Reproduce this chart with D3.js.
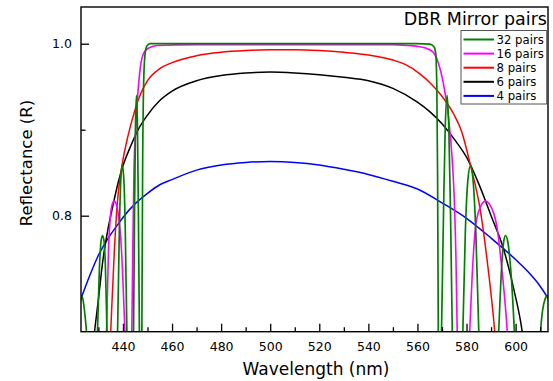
<!DOCTYPE html>
<html>
<head>
<meta charset="utf-8">
<script src="https://cdn.jsdelivr.net/npm/d3@7"></script>
<style>
  body { margin: 0; background: #fff; }
  svg text { font-family: "DejaVu Sans", sans-serif; fill: #000; }
</style>
</head>
<body>
<svg id="chart" width="553" height="381"></svg>
<script>
// [wavelength nm, reflectance]
const pairs4 = [[422.0,0.698],[422.9,0.704],[426,0.727],[430,0.754],[434,0.774],[437.7,0.789],[440,0.798],[445,0.814],[450,0.826],[455,0.836],
  [460,0.842],[470,0.853],[480,0.859],[490,0.862],[500,0.863],[510,0.862],[520,0.859],[530,0.854],[540,0.848],[550,0.840],
  [560,0.831],[570,0.815],[580,0.797],[590,0.774],[600,0.749],[605,0.735],[610,0.718],[613.2,0.704],[614,0.700]];

const pairs6 = [[427.4,0.64],[428.4,0.665],[430,0.703],[432,0.752],[433,0.770],[434,0.786],[436,0.813],[438,0.838],[440,0.858],
  [443,0.880],[446,0.899],[450,0.917],[455,0.934],[460,0.945],[470,0.957],[480,0.963],[490,0.966],[500,0.967],[510,0.966],
  [520,0.964],[530,0.961],[540,0.957],[550,0.948],[560,0.932],[565,0.921],[570,0.907],[575,0.889],[580,0.868],[585,0.837],
  [590,0.800],[595,0.762],[599.3,0.714],[602.7,0.665],[603.4,0.65]];

const pairs8 = [[434.3,0.62],[435.0,0.665],[436.5,0.76],[437.7,0.815],[439.7,0.860],[441.5,0.886],[443.8,0.912],[446.5,0.937],
  [450,0.957],[455,0.971],[460,0.978],[470,0.986],[480,0.990],[490,0.992],[500,0.993],[510,0.993],[520,0.992],[530,0.990],
  [540,0.987],[550,0.981],[555,0.976],[561,0.965],[565,0.955],[569.4,0.941],[574.8,0.918],[578,0.898],[581.5,0.860],
  [585.7,0.805],[588.4,0.748],[591.5,0.665],[592.2,0.64]];

const pairs16 = [[432.6,0.62],[433.3,0.665],[434.1,0.76],[434.9,0.80],[435.6,0.813],[436.4,0.817],[437.3,0.813],[438.2,0.80],
  [439.4,0.76],[440.8,0.665],[441.4,0.62],[442.5,0.50],[443.2,0.62],[443.6,0.665],[444.0,0.76],[444.5,0.855],[445.2,0.90],
  [445.9,0.936],[446.5,0.957],[447.2,0.975],[448.6,0.990],[450.5,0.995],[454,0.998],[470,0.999],[500,0.999],[530,0.999],
  [550,0.999],[556,0.998],[561,0.9965],[565,0.993],[567,0.988],[568.5,0.978],[570.5,0.955],[572.5,0.918],[574.1,0.868],
  [575.0,0.82],[575.7,0.75],[576.2,0.665],[576.7,0.60],[578.8,0.45],[580.6,0.62],[581.3,0.665],[582.3,0.73],[583.6,0.785],
  [585.3,0.808],[587.7,0.817],[590.8,0.805],[592.5,0.785],[594.5,0.735],[596.6,0.665],[597.3,0.63]];

const pairs32 = [[422.0,0.69],[422.9,0.703],[423.4,0.706],[424.1,0.695],[424.6,0.682],[425.1,0.665],[425.6,0.62],[427.3,0.40],
  [428.9,0.62],[429.6,0.665],[430.5,0.745],[431.1,0.771],[431.7,0.777],[432.3,0.770],[432.8,0.745],[433.5,0.665],[434.0,0.62],
  [435.8,0.40],[437.2,0.62],[437.8,0.665],[438.5,0.78],[439.1,0.84],[439.7,0.859],[440.3,0.845],[440.9,0.79],[441.6,0.665],
  [442.1,0.62],[442.9,0.40],[443.8,0.62],[444.3,0.665],[444.7,0.80],[445.1,0.905],[445.5,0.94],[445.9,0.905],[446.3,0.80],
  [446.7,0.665],[447.0,0.60],[447.3,0.50],[447.7,0.665],[448.0,0.85],[448.4,0.95],[448.9,0.985],[449.7,0.997],[451,1.0],
  [480,1.0],[520,1.0],[560,1.0],[565,0.9995],[566.6,0.997],[567.4,0.99],[567.9,0.95],[568.2,0.85],[568.5,0.665],[568.8,0.55],
  [569.1,0.45],[569.4,0.62],[569.8,0.665],[570.6,0.80],[571.3,0.90],[572.1,0.94],[572.8,0.90],[573.5,0.80],[574.2,0.665],
  [574.6,0.62],[576.2,0.40],[577.8,0.62],[578.5,0.665],[579.5,0.78],[580.5,0.84],[581.6,0.858],[582.7,0.84],[583.8,0.78],
  [585.0,0.665],[585.6,0.62],[588.3,0.40],[592.4,0.62],[593.1,0.665],[594.4,0.745],[595.2,0.771],[595.9,0.777],[596.8,0.770],
  [597.8,0.745],[599.5,0.665],[600.2,0.62],[605,0.40],[609.6,0.62],[610.2,0.665],[611.0,0.69],[612.0,0.703],[613.0,0.707],[614,0.705]];

const seriesNames = ["32 pairs", "16 pairs", "8 pairs", "6 pairs", "4 pairs"];
const xMajorTicks = [440, 460, 480, 500, 520, 540, 560, 580, 600];
const xMinorTicks = [430, 450, 470, 490, 510, 530, 550, 570, 590, 610];
const yMajorTicks = [0.8, 1.0];
const yMinorTicks = [0.9];

const series = [
  { name: seriesNames[4], data: pairs4, color: "#0000ff", width: 1.5 },
  { name: seriesNames[3], data: pairs6, color: "#000000", width: 1.5 },
  { name: seriesNames[2], data: pairs8, color: "#ff0000", width: 1.5 },
  { name: seriesNames[1], data: pairs16, color: "#ff00ff", width: 1.6 },
  { name: seriesNames[0], data: pairs32, color: "#008000", width: 1.7 }
];

const margin = { top: 7, right: 5, bottom: 49.3, left: 81 };
const width = 553 - margin.left - margin.right;
const height = 381 - margin.top - margin.bottom;

const svg = d3.select("#chart");
const g = svg.append("g").attr("transform", `translate(${margin.left},${margin.top})`);

const x = d3.scaleLinear().domain([422.9, 613.2]).range([0, width]);
const y = d3.scaleLinear().domain([0.6651, 1.0427]).range([height, 0]);

g.append("clipPath").attr("id", "plotClip")
  .append("rect").attr("width", width).attr("height", height);

const line = d3.line()
  .x(d => x(d[0]))
  .y(d => y(d[1]))
  .curve(d3.curveMonotoneX);

const plot = g.append("g").attr("clip-path", "url(#plotClip)");
series.forEach(s => {
  plot.append("path")
    .datum(s.data)
    .attr("fill", "none")
    .attr("stroke", s.color)
    .attr("stroke-width", s.width)
    .attr("stroke-linejoin", "round")
    .attr("d", line);
});

// axes, ticks pointing inward
function styleAxis(sel) {
  sel.select(".domain").remove();
  sel.selectAll(".tick line").attr("stroke", "#000").attr("stroke-width", 1.3);
  sel.selectAll(".tick text").attr("font-size", "12.5px").attr("fill", "#000");
}

g.append("g").attr("transform", `translate(0,${height})`)
  .call(d3.axisBottom(x).tickValues(xMajorTicks).tickFormat(d3.format("d"))
    .tickSizeInner(-8).tickSizeOuter(0).tickPadding(10.5))
  .call(styleAxis);
g.append("g").attr("transform", `translate(0,${height})`)
  .call(d3.axisBottom(x).tickValues(xMinorTicks).tickFormat("").tickSizeInner(-4.5).tickSizeOuter(0))
  .call(styleAxis);

g.append("g")
  .call(d3.axisLeft(y).tickValues(yMajorTicks).tickFormat(d3.format(".1f"))
    .tickSizeInner(-8).tickSizeOuter(0).tickPadding(9))
  .call(styleAxis);
g.append("g")
  .call(d3.axisLeft(y).tickValues(yMinorTicks).tickFormat("").tickSizeInner(-4.5).tickSizeOuter(0))
  .call(styleAxis);

g.append("rect")
  .attr("width", width).attr("height", height)
  .attr("fill", "none").attr("stroke", "#000").attr("stroke-width", 1.4);

// axis titles
svg.append("text")
  .attr("x", 316).attr("y", 375)
  .attr("text-anchor", "middle").attr("font-size", "17px")
  .text("Wavelength (nm)");
svg.append("text")
  .attr("transform", "translate(31.5,163) rotate(-90)")
  .attr("text-anchor", "middle").attr("font-size", "16.5px")
  .text("Reflectance (R)");

// legend
svg.append("text")
  .attr("x", 547).attr("y", 25)
  .attr("text-anchor", "end").attr("font-size", "17.5px")
  .text("DBR Mirror pairs");

const legend = svg.append("g").attr("transform", "translate(461,30.5)");
legend.append("rect")
  .attr("width", 85.7).attr("height", 73.5)
  .attr("fill", "#fff").attr("stroke", "#555").attr("stroke-width", 1);

const legendOrder = series.slice().reverse();
legendOrder.forEach((s, i) => {
  const row = legend.append("g").attr("transform", `translate(0,${9 + i * 14.1})`);
  row.append("line")
    .attr("x1", 2.5).attr("x2", 33)
    .attr("stroke", s.color).attr("stroke-width", 2);
  row.append("text")
    .attr("x", 35.5).attr("dy", "0.36em")
    .attr("font-size", "11.7px")
    .text(s.name);
});
</script>
</body>
</html>
